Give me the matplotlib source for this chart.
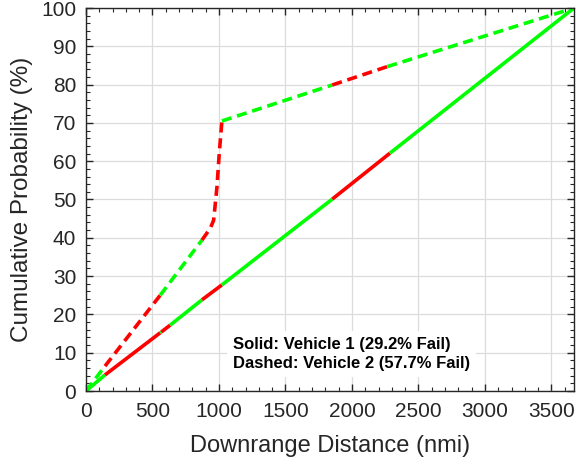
import matplotlib
matplotlib.use("Agg")
import matplotlib.pyplot as plt
from matplotlib.ticker import MultipleLocator

# Vehicle 1 (solid) path vertices and segment colours
v1_x = [0, 143, 558, 566, 633, 872, 1022, 1852, 2286, 3670]
v1_y = [0, 4.2, 15.2, 15.4, 17.2, 23.8, 27.7, 50.1, 62.1, 100]
v1_colors = ['g', 'r', 'g', 'r', 'g', 'r', 'g', 'r', 'g']

# Vehicle 2 (dashed) path vertices and segment colours
v2_x = [0, 143, 558, 872, 935, 960, 985, 1002, 1022, 1852, 2266, 3670]
v2_y = [0, 6.5, 25, 39.4, 42.5, 44.6, 53.3, 62, 70.5, 79.9, 84.7, 100]
v2_colors = ['g', 'r', 'g', 'r', 'r', 'r', 'r', 'r', 'g', 'r', 'g']

labels = ["Solid: Vehicle 1 (29.2% Fail)", "Dashed: Vehicle 2 (57.7% Fail)"]

cmap = {'g': '#00ff00', 'r': '#ff0000'}

plt.rcParams['font.family'] = ['Liberation Sans', 'DejaVu Sans']

fig = plt.figure(figsize=(5.84, 4.61), dpi=100)
ax = fig.add_axes([86/584, 1-391/461, (574-86)/584, (391-8)/461])


def draw(xs, ys, cols, ls):
    # group consecutive same-colour segments into polylines
    i = 0
    n = len(cols)
    while i < n:
        j = i
        while j + 1 < n and cols[j + 1] == cols[i]:
            j += 1
        kw = dict(color=cmap[cols[i]], lw=2.6, solid_capstyle='butt')
        if ls == '--':
            kw.update(dashes=(2.8, 1.6), dash_capstyle='butt')
        ax.plot(xs[i:j + 2], ys[i:j + 2], ls, **kw)
        i = j + 1


draw(v2_x, v2_y, v2_colors, '--')
draw(v1_x, v1_y, v1_colors, '-')

ax.set_xlim(0, 3670)
ax.set_ylim(0, 100)
ax.xaxis.set_major_locator(MultipleLocator(500))
ax.xaxis.set_minor_locator(MultipleLocator(100))
ax.yaxis.set_major_locator(MultipleLocator(10))
ax.yaxis.set_minor_locator(MultipleLocator(2))
ax.grid(True, which='major', color='#dcdcdc', lw=0.9)
ax.set_axisbelow(True)
ax.tick_params(which='both', direction='in', top=True, right=True,
               colors='#262626', labelsize=15)
ax.tick_params(axis='y', which='major', pad=7)
ax.tick_params(axis='x', which='major', pad=8)
ax.tick_params(which='major', length=5, width=1)
ax.tick_params(which='minor', length=3, width=0.8)
for s in ax.spines.values():
    s.set_color('#262626')
    s.set_linewidth(1)

ax.set_xlabel("Downrange Distance (nmi)", fontsize=17, color='#262626', labelpad=10)
ax.set_ylabel("Cumulative Probability (%)", fontsize=17.5, color='#262626', labelpad=6)

ax.text(0.301, 0.0966, labels[0] + "\n" + labels[1], transform=ax.transAxes,
        fontsize=12, fontweight='bold', color='black', va='center', ha='left',
        linespacing=1.4,
        bbox=dict(facecolor='white', edgecolor='none', pad=4))

fig.savefig("out.png", dpi=100)
